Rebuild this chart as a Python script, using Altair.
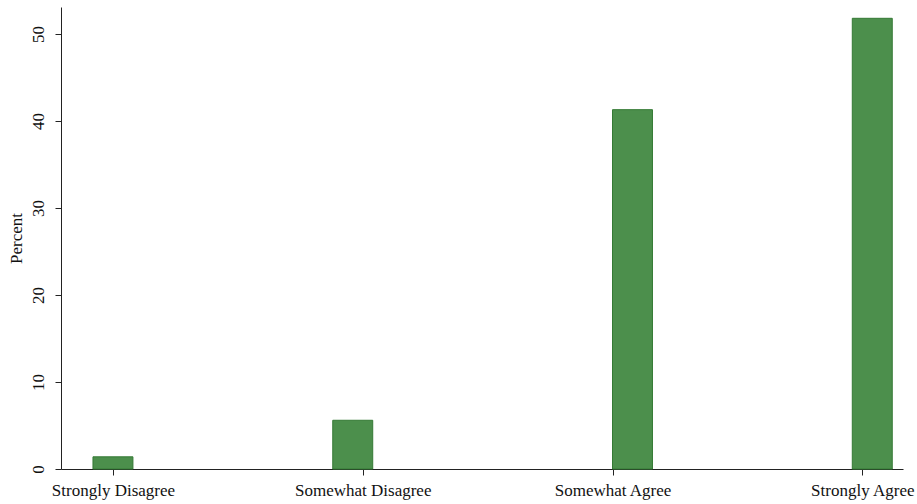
import altair as alt
import pandas as pd

categories = ["Strongly Disagree", "Somewhat Disagree", "Somewhat Agree", "Strongly Agree"]
codes = [1, 2, 3, 4]
percent = [1.4, 5.6, 41.3, 51.8]
bin_lo = [0.92, 1.88, 3.00, 3.96]
bin_width = 0.16

df = pd.DataFrame({
    "category": categories,
    "code": codes,
    "percent": percent,
    "base": [0.0] * len(categories),
    "lo": bin_lo,
    "hi": [b + bin_width for b in bin_lo],
})

label_expr = ("datum.value == 1 ? 'Strongly Disagree' : datum.value == 2 ? 'Somewhat Disagree' : "
              "datum.value == 3 ? 'Somewhat Agree' : datum.value == 4 ? 'Strongly Agree' : ''")

font = "Liberation Serif"

chart = alt.Chart(df).mark_bar(
    fill="#4c8f4c", stroke="#347a34", strokeWidth=1
).encode(
    x=alt.X("lo:Q", scale=alt.Scale(domain=[0.792, 4.163], nice=False, zero=False),
            axis=alt.Axis(values=codes, labelExpr=label_expr, title=None, grid=False,
                          labelFont=font, labelFontSize=17, labelColor="#111111",
                          tickSize=6, tickColor="#222222", domainColor="#222222",
                          labelPadding=7, labelOverlap=False)),
    x2="hi:Q",
    y=alt.Y("percent:Q", scale=alt.Scale(domain=[0, 53.1], nice=False),
            axis=alt.Axis(values=[0, 10, 20, 30, 40, 50], title="Percent", grid=False,
                          labelFont=font, labelFontSize=17, labelColor="#111111",
                          labelAngle=270, labelAlign="center", labelBaseline="bottom",
                          labelPadding=8,
                          titleFont=font, titleFontSize=17, titleFontWeight="normal",
                          titleColor="#111111", titlePadding=4,
                          tickSize=6, tickColor="#222222", domainColor="#222222")),
    y2="base:Q",
).properties(
    width=842, height=462,
    autosize=alt.AutoSizeParams(type="none"),
    padding={"left": 61, "top": 7, "right": 14, "bottom": 35},
    background="white",
).configure_view(strokeWidth=0, stroke=None)

chart.save("out.html", embed_options={"renderer": "svg", "actions": False})
